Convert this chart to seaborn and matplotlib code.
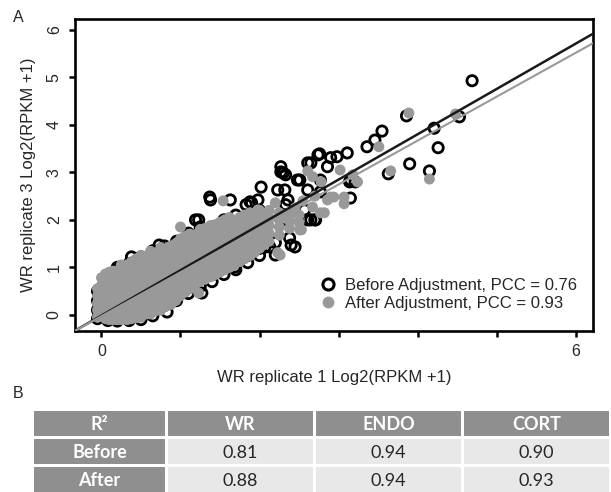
import matplotlib
matplotlib.use("Agg")
import matplotlib.pyplot as plt
from matplotlib.lines import Line2D
from matplotlib.patches import Rectangle
import seaborn as sns

# values (log2(RPKM+1), replicate 1 vs replicate 3)
# dense core of the cloud, listed column by column
before_cols_x = [-0.05, 0.08, 0.2, 0.35, 0.5, 0.65, 0.8, 0.95, 1.1, 1.25, 1.4, 1.55, 1.7, 1.85, 2.0]
before_cols_y = [
    [-0.08, 0.1, 0.3, 0.5],
    [-0.12, 0.05, 0.25, 0.45, 0.65, 0.82],
    [-0.13, 0.05, 0.25, 0.45, 0.65, 0.85, 1.0],
    [-0.12, 0.08, 0.28, 0.48, 0.68, 0.88, 1.08],
    [-0.1, 0.1, 0.3, 0.5, 0.7, 0.9, 1.1, 1.22],
    [-0.02, 0.15, 0.35, 0.55, 0.75, 0.95, 1.15, 1.35],
    [0.2, 0.35, 0.5, 0.68, 0.88, 1.08, 1.28, 1.45],
    [0.3, 0.45, 0.6, 0.8, 1.0, 1.2, 1.4, 1.55],
    [0.45, 0.6, 0.75, 0.95, 1.15, 1.35, 1.55, 1.72],
    [0.6, 0.75, 0.9, 1.1, 1.3, 1.5, 1.7, 1.85],
    [0.7, 0.85, 1.05, 1.25, 1.45, 1.65, 1.85],
    [0.85, 1.0, 1.2, 1.4, 1.6, 1.8, 2.0],
    [0.95, 1.12, 1.32, 1.52, 1.72, 1.92, 2.1],
    [1.1, 1.25, 1.45, 1.65, 1.85, 2.05],
    [1.25, 1.4, 1.6, 1.8, 2.0, 2.2],
]
# scattered genes away from the core
before_out_x = [4.69, 3.86, 4.53, 4.21, 4.26, 3.90, 4.15, 3.63, 3.36, 3.46, 3.55, 3.11, 2.76, 2.90,
                2.98, 3.21, 3.15, 2.65, 1.37, 1.19, 1.90, 2.30, 2.51, 2.65, 2.74, 0.73, 0.38, 1.27,
                0.83, 2.40, 2.20, 2.02, 2.38, 2.71, 2.48, 2.33, 3.15, 2.61, 2.27, 2.33, 2.48, 2.23,
                1.88, 1.98, 1.57, 1.69, 1.82, 2.07, 1.63, 1.23, 2.32, 2.61, 2.77, 3.14, 2.36, 2.57,
                2.34, 2.61, 2.70, 2.45, 2.20, 2.02, 2.27, 2.77, 2.86, 0.20, 1.79, 2.05, 2.13, 1.46,
                1.83, 1.38]
before_out_y = [4.93, 4.19, 4.17, 3.93, 3.52, 3.18, 3.03, 2.97, 3.54, 3.68, 3.87, 3.41, 3.39, 3.31,
                3.33, 2.80, 2.46, 2.00, 2.48, 2.00, 2.36, 2.99, 2.84, 3.20, 3.37, 1.47, 1.22, 0.46,
                0.06, 1.47, 1.26, 1.58, 1.62, 2.00, 2.04, 2.32, 2.84, 3.20, 3.01, 2.95, 2.84, 2.63,
                2.38, 2.42, 1.09, 1.01, 1.26, 1.43, 2.42, 2.00, 2.63, 2.63, 2.59, 2.80, 2.42, 2.21,
                2.00, 2.00, 2.00, 1.43, 1.52, 2.69, 3.12, 2.84, 3.12, 0.95, 1.22, 1.54, 1.43, 0.91,
                2.32, 2.42]

after_cols_x = [-0.05, 0.0, 0.05, 0.1, 0.15, 0.2, 0.25, 0.32, 0.38, 0.44, 0.5, 0.56, 0.62, 0.68,
                0.75, 0.81, 0.88, 0.94, 1.0, 1.06, 1.12, 1.18, 1.25, 1.31, 1.38, 1.44, 1.5, 1.56,
                1.62, 1.68, 1.75, 1.81, 1.88, 1.94, 2.0, 2.06, 2.12, 2.25, 2.38, 2.5]
after_cols_y = [
    [-0.05, 0.1, 0.25, 0.4, 0.55],
    [0.0, 0.15, 0.3, 0.45, 0.62, 0.78],
    [-0.08, 0.08, 0.22, 0.38, 0.55, 0.72, 0.86],
    [-0.1, 0.02, 0.15, 0.3, 0.45, 0.6, 0.75, 0.9],
    [-0.1, 0.05, 0.2, 0.35, 0.5, 0.65, 0.8, 0.92],
    [-0.1, 0.12, 0.28, 0.42, 0.58, 0.72, 0.88],
    [-0.1, 0.05, 0.2, 0.35, 0.5, 0.65, 0.8, 0.95, 1.05],
    [-0.1, 0.0, 0.15, 0.3, 0.45, 0.6, 0.75, 0.9, 1.05],
    [-0.08, 0.08, 0.22, 0.38, 0.52, 0.68, 0.83, 0.98, 1.12],
    [-0.06, 0.15, 0.3, 0.45, 0.6, 0.75, 0.9, 1.05, 1.18],
    [-0.05, 0.1, 0.25, 0.4, 0.55, 0.7, 0.85, 1.0, 1.15, 1.25],
    [0.02, 0.18, 0.32, 0.48, 0.62, 0.78, 0.92, 1.08, 1.22],
    [0.02, 0.18, 0.32, 0.48, 0.62, 0.78, 0.92, 1.08, 1.22, 1.34],
    [0.08, 0.25, 0.4, 0.55, 0.7, 0.85, 1.0, 1.15, 1.3],
    [0.1, 0.25, 0.4, 0.55, 0.7, 0.85, 1.0, 1.15, 1.3, 1.42],
    [0.18, 0.32, 0.48, 0.62, 0.78, 0.92, 1.08, 1.22, 1.38],
    [0.22, 0.38, 0.52, 0.68, 0.82, 0.98, 1.12, 1.28, 1.45],
    [0.3, 0.45, 0.6, 0.75, 0.9, 1.05, 1.2, 1.35, 1.5],
    [0.4, 0.55, 0.7, 0.85, 1.0, 1.15, 1.3, 1.45, 1.6],
    [0.48, 0.62, 0.78, 0.92, 1.08, 1.22, 1.38, 1.52, 1.65],
    [0.55, 0.7, 0.85, 1.0, 1.15, 1.3, 1.45, 1.6, 1.7],
    [0.62, 0.78, 0.92, 1.08, 1.22, 1.38, 1.52, 1.68],
    [0.72, 0.88, 1.02, 1.18, 1.32, 1.48, 1.62, 1.8],
    [0.75, 0.92, 1.08, 1.22, 1.38, 1.52, 1.68, 1.82],
    [0.8, 0.95, 1.1, 1.25, 1.4, 1.55, 1.7, 1.88],
    [0.85, 1.0, 1.15, 1.3, 1.45, 1.6, 1.75, 1.9],
    [0.9, 1.05, 1.2, 1.35, 1.5, 1.65, 1.8, 1.95],
    [0.95, 1.1, 1.25, 1.4, 1.55, 1.7, 1.85, 2.0],
    [1.0, 1.15, 1.3, 1.45, 1.6, 1.75, 1.9, 2.05],
    [1.05, 1.22, 1.38, 1.52, 1.68, 1.82, 1.98],
    [1.12, 1.28, 1.42, 1.58, 1.72, 1.88, 2.05],
    [1.18, 1.35, 1.5, 1.65, 1.8, 1.95, 2.1],
    [1.25, 1.4, 1.55, 1.7, 1.85, 2.0, 2.15],
    [1.32, 1.48, 1.62, 1.78, 1.92, 2.08],
    [1.4, 1.55, 1.7, 1.85, 2.0, 2.2],
    [1.48, 1.62, 1.78, 1.95, 2.12],
    [1.55, 1.72, 1.88, 2.05, 2.2],
    [1.68, 1.85, 2.0, 2.15],
    [1.82, 1.98, 2.12],
    [1.95, 2.1],
]
after_out_x = [3.89, 4.48, 4.15, 3.66, 3.51, 3.07, 2.90, 1.00, 1.54, 2.61, 0.12, 1.23, 2.26, 2.51,
               3.18, 2.86, 3.02, 2.77, 2.20, 1.98, 2.23, 2.67, 2.78, 3.24, 2.94, 2.53, 2.82, 2.67,
               3.07, 2.30, 2.45, 2.55, 2.70]
after_out_y = [4.25, 4.23, 2.86, 3.03, 3.54, 2.34, 2.48, 1.85, 2.40, 3.03, 0.90, 0.46, 1.26, 1.79,
               2.95, 2.42, 3.05, 2.15, 2.36, 2.21, 1.31, 2.91, 2.80, 2.80, 2.48, 1.79, 2.15, 2.27,
               2.48, 2.10, 2.25, 2.40, 2.50]

# fitted lines (slope, intercept)
before_fit = (0.954, -0.014)
after_fit = (0.924, -0.027)
before_pcc = 0.76
after_pcc = 0.93

# panel B table
table_header = ["R\u00b2", "WR", "ENDO", "CORT"]
table_rows = ["Before", "After"]
r2_before = [0.81, 0.94, 0.90]
r2_after = [0.88, 0.94, 0.93]


def flatten(cols_x, cols_y):
    xs, ys = [], []
    for x, col in zip(cols_x, cols_y):
        xs += [x] * len(col)
        ys += col
    return xs, ys


bx, by = flatten(before_cols_x, before_cols_y)
bx, by = bx + before_out_x, by + before_out_y
ax_, ay_ = flatten(after_cols_x, after_cols_y)
ax_, ay_ = ax_ + after_out_x, ay_ + after_out_y

sns.set_style("white")
plt.rcParams["font.family"] = ["Liberation Sans", "DejaVu Sans"]

fig = plt.figure(figsize=(6.11, 4.92), dpi=100)
W, H = 611, 492
ax = fig.add_axes([75 / W, 1 - 331 / H, (593 - 75) / W, (331 - 19) / H])

gray = "#999999"
sns.scatterplot(x=bx, y=by, ax=ax, marker="o", s=55, facecolors="none",
                edgecolor="black", linewidth=2.0, zorder=2)
sns.scatterplot(x=ax_, y=ay_, ax=ax, marker="o", s=62, color=gray,
                edgecolor="none", linewidth=0, zorder=3)

ax.axline((0, before_fit[1]), slope=before_fit[0], color="#1a1a1a", lw=1.8, zorder=4)
ax.axline((0, after_fit[1]), slope=after_fit[0], color=gray, lw=1.5, zorder=4)

ax.set_xlim(-0.335, 6.22)
ax.set_ylim(-0.34, 6.23)
ax.set_xticks(range(7))
ax.set_xticklabels(["0", "", "", "", "", "", "6"])
ax.set_yticks(range(7))
ax.set_yticklabels([str(i) for i in range(7)], rotation=90, va="center")
ax.tick_params(direction="out", length=4.5, width=1.8, labelsize=11.5, pad=5,
               bottom=True, left=True, color="black")
for sp in ax.spines.values():
    sp.set_linewidth(1.9)
    sp.set_color("black")
ax.set_xlabel("WR replicate 1 Log2(RPKM +1)", fontsize=12, labelpad=8)
ax.set_ylabel("WR replicate 3 Log2(RPKM +1)", fontsize=12, labelpad=8)

handles = [
    Line2D([], [], marker="o", ls="none", markersize=8, markerfacecolor="none",
           markeredgecolor="black", markeredgewidth=2.2),
    Line2D([], [], marker="o", ls="none", markersize=8.5, markerfacecolor=gray,
           markeredgecolor="none"),
]
labels = [f"Before Adjustment, PCC = {before_pcc:.2f}",
          f"After Adjustment, PCC = {after_pcc:.2f}"]
ax.legend(handles, labels, loc="center left", bbox_to_anchor=((320 - 75) / 518, (331 - 294.5) / 312),
          frameon=False, fontsize=12, handlelength=1.0, handletextpad=0.5,
          labelspacing=0.15, borderpad=0, borderaxespad=0)

fig.text(18 / W, 1 - 17 / H, "A", fontsize=11.5, ha="center", va="center")
fig.text(18 / W, 1 - 394 / H, "B", fontsize=11.5, ha="center", va="center")

# table for panel B
tax = fig.add_axes([34 / W, 1 - 495 / H, (612 - 34) / W, (495 - 411) / H])
tax.set_xlim(0, 578)
tax.set_ylim(84, 0)
tax.axis("off")
col_w = [134, 148, 148, 148]
row_h = 28
gap = 3
dark = "#8f8f8f"
light = "#e8e8e8"
grid = [table_header,
        [table_rows[0]] + [f"{v:.2f}" for v in r2_before],
        [table_rows[1]] + [f"{v:.2f}" for v in r2_after]]
for r, row in enumerate(grid):
    x0 = 0
    for c, txt in enumerate(row):
        head = r == 0 or c == 0
        tax.add_patch(Rectangle((x0, r * row_h), col_w[c] - gap, row_h - gap,
                                facecolor=dark if head else light, edgecolor="none"))
        tax.text(x0 + (col_w[c] - gap) / 2, r * row_h + (row_h - gap) / 2 + 1, txt,
                 ha="center", va="center", fontsize=13, family=["Lato", "DejaVu Sans"],
                 color="white" if head else "#262626",
                 fontweight="bold" if head else "normal")
        x0 += col_w[c]

fig.savefig("out.png", dpi=100)
